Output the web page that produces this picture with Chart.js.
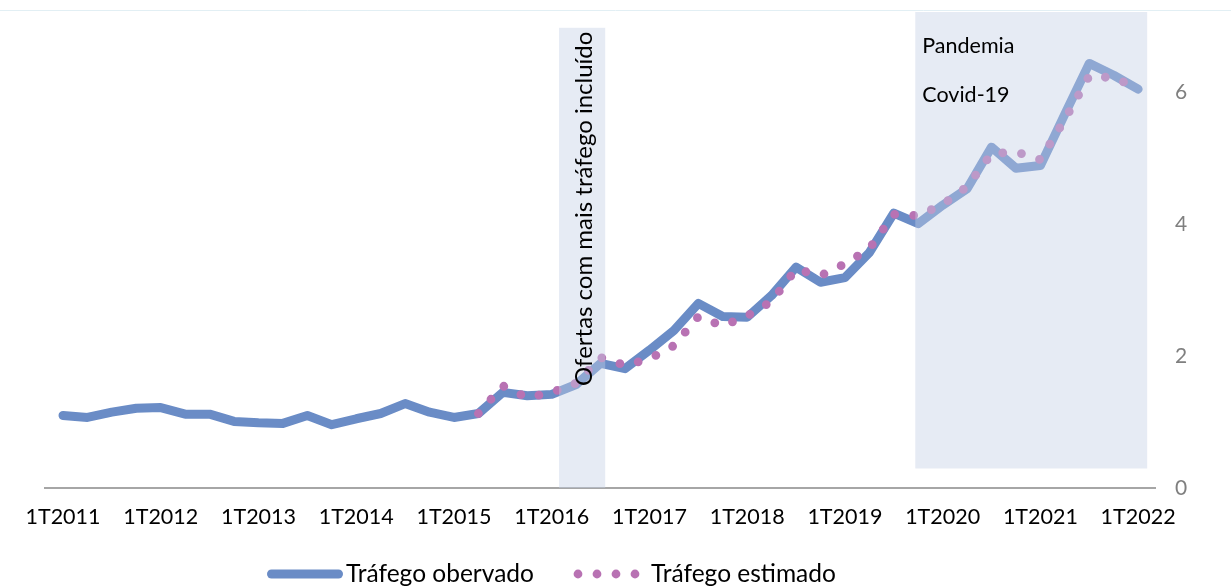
<!DOCTYPE html>
<html>
<head>
<meta charset="utf-8">
<script src="https://cdn.jsdelivr.net/npm/chart.js@4"></script>
<style>
  html, body { margin: 0; padding: 0; background: #ffffff; }
  canvas { display: block; }
</style>
</head>
<body>
<canvas id="trafego" width="1231" height="587"></canvas>
<script>
// Quarterly labels (1T = first quarter)
const quarterLabels = [
  '1T2011','2T2011','3T2011','4T2011',
  '1T2012','2T2012','3T2012','4T2012',
  '1T2013','2T2013','3T2013','4T2013',
  '1T2014','2T2014','3T2014','4T2014',
  '1T2015','2T2015','3T2015','4T2015',
  '1T2016','2T2016','3T2016','4T2016',
  '1T2017','2T2017','3T2017','4T2017',
  '1T2018','2T2018','3T2018','4T2018',
  '1T2019','2T2019','3T2019','4T2019',
  '1T2020','2T2020','3T2020','4T2020',
  '1T2021','2T2021','3T2021','4T2021',
  '1T2022'
];

// Observed traffic, one value per quarter
const observed = [
  1.10, 1.07, 1.15, 1.21,
  1.22, 1.12, 1.12, 1.01,
  0.99, 0.98, 1.10, 0.96,
  1.05, 1.13, 1.28, 1.15,
  1.07, 1.13, 1.45, 1.40,
  1.42, 1.57, 1.89, 1.81,
  2.09, 2.39, 2.80, 2.60,
  2.59, 2.92, 3.35, 3.12,
  3.19, 3.57, 4.17, 4.01,
  4.29, 4.54, 5.17, 4.85,
  4.89, 5.67, 6.44, 6.26,
  6.05
];

// Estimated traffic (model starts in 2T2015)
const estimated = [
  null, null, null, null,
  null, null, null, null,
  null, null, null, null,
  null, null, null, null,
  null, 1.13, 1.55, 1.37,
  1.45, 1.59, 1.98, 1.86,
  1.96, 2.16, 2.60, 2.46,
  2.61, 2.83, 3.32, 3.22,
  3.40, 3.63, 4.15, 4.13,
  4.30, 4.57, 5.07, 5.10,
  4.98, 5.59, 6.25, 6.22,
  6.07
];

// Highlighted periods, in quarter index units and axis values
const periodStart = [20.30, 34.88];
const periodEnd   = [22.19, 44.37];
const periodTop   = [6.98, 7.22];
const periodBase  = [0, 0.296];
const periodNotes = [['Ofertas com mais tráfego incluído'], ['Pandemia', 'Covid-19']];

const yTickValues = [0, 2, 4, 6];

const seriesNames = ['Tráfego obervado', 'Tráfego estimado'];
const OBS_COLOR = '#6a8cc6';
const EST_COLOR = '#b872b3';
const FONT = 'Lato, "Open Sans", sans-serif';

const toPoints = arr => arr.map((v, i) => ({ x: i, y: v })).filter(p => p.y !== null);

const decorations = {
  id: 'decorations',
  beforeDraw(chart) {
    const { ctx, width } = chart;
    ctx.save();
    ctx.strokeStyle = '#e2eff4';
    ctx.lineWidth = 1;
    ctx.beginPath();
    ctx.moveTo(0, 10.5);
    ctx.lineTo(width, 10.5);
    ctx.stroke();
    ctx.restore();
  },
  afterDatasetsDraw(chart) {
    const { ctx, scales: { x, y } } = chart;
    ctx.save();
    ctx.fillStyle = 'rgba(195, 207, 228, 0.42)';
    periodStart.forEach((s, k) => {
      const l = x.getPixelForValue(s);
      const r = x.getPixelForValue(periodEnd[k]);
      const t = y.getPixelForValue(periodTop[k]);
      const b = y.getPixelForValue(periodBase[k]);
      ctx.fillRect(l, t, r - l, b - t);
    });
    ctx.restore();
  },
  afterDraw(chart) {
    const { ctx, scales: { x, y } } = chart;
    ctx.save();
    ctx.fillStyle = '#000000';

    // vertical note inside the first period
    const c0 = (x.getPixelForValue(periodStart[0]) + x.getPixelForValue(periodEnd[0])) / 2;
    ctx.save();
    ctx.translate(c0 + 10, 386);
    ctx.rotate(-Math.PI / 2);
    ctx.font = '24px ' + FONT;
    ctx.textAlign = 'left';
    ctx.textBaseline = 'alphabetic';
    ctx.fillText(periodNotes[0][0], 0, 0);
    ctx.restore();

    // note in the second period
    const l1 = x.getPixelForValue(periodStart[1]);
    ctx.font = '21.5px ' + FONT;
    ctx.textAlign = 'left';
    ctx.textBaseline = 'alphabetic';
    ctx.fillText(periodNotes[1][0], l1 + 7, 53);
    ctx.fillText(periodNotes[1][1], l1 + 7, 102);

    // legend
    const ly = 574;
    ctx.strokeStyle = OBS_COLOR;
    ctx.lineWidth = 9;
    ctx.lineCap = 'round';
    ctx.beginPath();
    ctx.moveTo(271.5, ly);
    ctx.lineTo(338.5, ly);
    ctx.stroke();
    ctx.fillStyle = EST_COLOR;
    for (let k = 0; k < 4; k++) {
      ctx.beginPath();
      ctx.arc(578 + 19 * k, ly, 4.4, 0, Math.PI * 2);
      ctx.fill();
    }
    ctx.fillStyle = '#000000';
    ctx.font = '24.5px ' + FONT;
    ctx.textBaseline = 'middle';
    ctx.fillText(chart.data.datasets[0].label, 346, ly);
    ctx.fillText(chart.data.datasets[1].label, 651, ly);
    ctx.restore();
  }
};

new Chart(document.getElementById('trafego'), {
  type: 'line',
  data: {
    datasets: [
      {
        label: seriesNames[0],
        data: toPoints(observed),
        borderColor: OBS_COLOR,
        backgroundColor: OBS_COLOR,
        borderWidth: 9,
        borderCapStyle: 'round',
        borderJoinStyle: 'round',
        pointRadius: 0,
        tension: 0,
        fill: false,
        order: 2
      },
      {
        label: seriesNames[1],
        data: toPoints(estimated),
        borderColor: EST_COLOR,
        backgroundColor: EST_COLOR,
        borderWidth: 8.8,
        borderDash: [0, 19],
        borderCapStyle: 'round',
        borderJoinStyle: 'round',
        pointRadius: 0,
        tension: 0,
        fill: false,
        order: 1
      }
    ]
  },
  options: {
    responsive: false,
    animation: false,
    devicePixelRatio: 1,
    layout: { padding: { left: 45, top: 10, right: 0, bottom: 0 } },
    plugins: {
      legend: { display: false },
      tooltip: { enabled: false }
    },
    scales: {
      x: {
        type: 'linear',
        min: -0.737,
        max: 44.69,
        grid: { display: false, drawTicks: false },
        border: { display: true, color: '#a6a6a6', width: 2 },
        ticks: {
          color: '#000000',
          font: { family: FONT, size: 21.5 },
          padding: 16,
          maxRotation: 0,
          autoSkip: false,
          callback: v => quarterLabels[v]
        },
        afterBuildTicks: s => {
          s.ticks = quarterLabels
            .map((lab, i) => ({ value: i, lab }))
            .filter(t => t.lab.startsWith('1T'))
            .map(t => ({ value: t.value }));
        },
        afterFit: s => {
          s.height = 99;
          s.paddingLeft = 0;
          s.paddingRight = 0;
        }
      },
      y: {
        position: 'right',
        min: 0,
        max: 7.25,
        grid: { display: false, drawTicks: false },
        border: { display: false },
        ticks: {
          color: '#7f7f7f',
          font: { family: FONT, size: 21 },
          padding: 20
        },
        afterBuildTicks: s => {
          s.ticks = yTickValues.map(v => ({ value: v }));
        },
        afterFit: s => {
          s.width = 76;
          s.paddingTop = 0;
          s.paddingBottom = 0;
        }
      }
    }
  },
  plugins: [decorations]
});
</script>
</body>
</html>
